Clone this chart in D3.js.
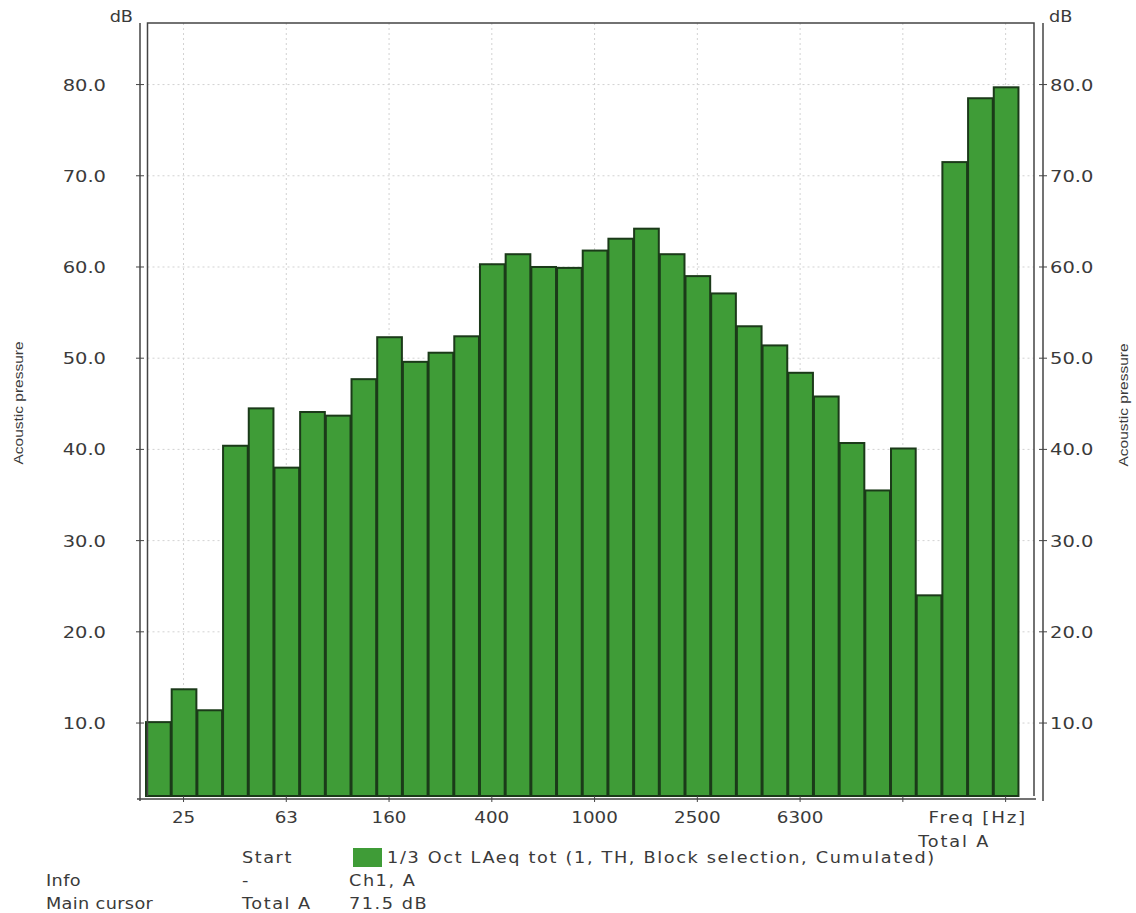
<!DOCTYPE html>
<html><head><meta charset="utf-8">
<script src="https://cdn.jsdelivr.net/npm/d3@7"></script>
<style>body{margin:0;background:#fff}svg{display:block}</style>
</head><body><svg id="c" width="1136" height="913"></svg>
<script>
// ---- data ----
const bands = ["20","25","31.5","40","50","63","80","100","125","160","200","250","315","400","500","630","800","1000","1250","1600","2000","2500","3150","4000","5000","6300","8000","10000","12500","16000","20000","Total A","Total C","Total Z"];
const levels = [10.1,13.7,11.4,40.4,44.5,38.0,44.1,43.7,47.7,52.3,49.6,50.6,52.4,60.3,61.4,60.0,59.9,61.8,63.1,64.2,61.4,59.0,57.1,53.5,51.4,48.4,45.8,40.7,35.5,40.1,24.0,71.5,78.5,79.7];
const xTicks = ["25","63","160","400","1000","2500","6300","16000","Total Z"];
const xTickLabels = ["25","63","160","400","1000","2500","6300","",""];
const yTicks = [10,20,30,40,50,60,70,80];
const legendRows = [["","Start",""],["Info","-","Ch1, A"],["Main cursor","Total A","71.5 dB"]];
const seriesName = "1/3 Oct LAeq tot (1, TH, Block selection, Cumulated)";
const cursorBand = "Total A";

// ---- layout ----
const svg = d3.select("#c");
const SX = 1.18; // horizontal stretch of text glyphs
const font = "'DejaVu Sans', Verdana, sans-serif";
const txtCol = "#3a3a3a";
const plotL = 147.5, plotR = 1034, plotT = 23, plotB = 796;
const axL = 140, axR = 1043, axB = 799;

const x = d3.scaleBand().domain(bands).range([145, 145 + 34 * 25.69]).padding(0);
const y = d3.scaleLinear().domain([2, 86.75]).range([plotB, plotT]);

svg.append("rect").attr("width",1136).attr("height",913).attr("fill","#fff");

// gridlines
const grid = svg.append("g").attr("stroke","#d2d2d2").attr("stroke-width",1).attr("stroke-dasharray","2,3");
grid.selectAll("line.v").data(xTicks).join("line").attr("class","v")
  .attr("x1",d=>x(d)+x.bandwidth()/2).attr("x2",d=>x(d)+x.bandwidth()/2)
  .attr("y1",plotT).attr("y2",plotB);
grid.selectAll("line.h").data(yTicks).join("line").attr("class","h")
  .attr("x1",plotL).attr("x2",plotR).attr("y1",d=>y(d)).attr("y2",d=>y(d));

// bars
svg.append("g").selectAll("rect").data(bands).join("rect")
  .attr("x",(d)=>x(d)+1).attr("width",x.bandwidth()-1)
  .attr("y",(d,i)=>y(levels[i])).attr("height",(d,i)=>y(2)-y(levels[i]))
  .attr("fill","#3f9c37").attr("stroke","#1b3a19").attr("stroke-width",2);

// frame
const fr = svg.append("g").attr("stroke","#444").attr("stroke-width",1.5).attr("fill","none");
fr.append("path").attr("d",`M${plotL},${plotB}V${plotT}H${plotR}V${plotB}`);
fr.append("line").attr("x1",axL).attr("x2",axL).attr("y1",plotT).attr("y2",axB+2);
fr.append("line").attr("x1",axR).attr("x2",axR).attr("y1",plotT).attr("y2",axB+2);

// x axis
const xa = svg.append("g").attr("transform",`translate(0,${axB})`)
  .call(d3.axisBottom(x).tickValues(xTicks).tickSize(3).tickPadding(10)
    .tickFormat((d,i)=>xTickLabels[i]));
xa.select(".domain").attr("d",`M137,0H1036`).attr("stroke","#444").attr("stroke-width",1.5);
xa.selectAll(".tick line").attr("y1",-3).attr("y2",3).attr("stroke","#444");
xa.selectAll(".tick text").attr("font-family",font).attr("font-size",15.5).attr("fill",txtCol)
  .attr("transform",`scale(${SX},1)`);

// y axes (left & right)
function yAxis(xLine, side){
  const g = svg.append("g");
  g.selectAll("line").data(yTicks).join("line")
    .attr("x1",xLine-4).attr("x2",xLine+4).attr("y1",d=>y(d)).attr("y2",d=>y(d))
    .attr("stroke","#444").attr("stroke-width",1);
  g.selectAll("text").data(yTicks).join("text")
    .attr("transform",d=>`translate(${side<0? xLine-34 : xLine+7},${y(d)}) scale(${SX},1)`)
    .attr("text-anchor",side<0?"end":"start").attr("dy","0.36em")
    .attr("font-family",font).attr("font-size",16.5).attr("fill",txtCol)
    .text(d=>d3.format(".1f")(d));
  svg.append("text").attr("transform",`translate(${side<0? 133 : 1049},22) scale(${SX},1)`)
    .attr("text-anchor",side<0?"end":"start")
    .attr("font-family",font).attr("font-size",15).attr("fill",txtCol).text("dB");
}
yAxis(axL,-1); yAxis(axR,1);

// rotated axis titles
[[18,403],[1123,405]].forEach(([tx,ty])=>{
  svg.append("text").attr("transform",`translate(${tx},${ty}) rotate(-90) scale(1,0.85)`)
    .attr("text-anchor","middle").attr("dy","0.35em")
    .attr("font-family","'Liberation Sans', Arial, sans-serif").attr("font-size",15.5)
    .attr("fill",txtCol).text("Acoustic pressure");
});

// Freq label and cursor label
svg.append("text").attr("transform",`translate(1027,823) scale(${SX},1)`).attr("text-anchor","end")
  .attr("font-family",font).attr("font-size",15.5).attr("letter-spacing",1.5).attr("fill",txtCol).text("Freq [Hz]");
svg.append("text").attr("transform",`translate(${x(cursorBand)+x.bandwidth()/2},847) scale(${SX},1)`)
  .attr("text-anchor","middle").attr("font-family",font).attr("font-size",15).attr("letter-spacing",1.6)
  .attr("fill",txtCol).text(cursorBand);

// legend / info table
const colX = [46,242,349], rowY = [863,886,909];
legendRows.forEach((r,ri)=>r.forEach((t,ci)=>{
  if(!t) return;
  svg.append("text").attr("transform",`translate(${colX[ci]},${rowY[ri]}) scale(${SX},1)`)
    .attr("font-family",font).attr("font-size",15).attr("letter-spacing",ci===0?0.3:1.3)
    .attr("fill",txtCol).text(t);
}));
svg.append("rect").attr("x",353).attr("y",848).attr("width",29).attr("height",19).attr("fill","#3f9c37");
svg.append("text").attr("transform",`translate(387,${rowY[0]}) scale(${SX},1)`)
  .attr("font-family",font).attr("font-size",15).attr("letter-spacing",1.4)
  .attr("fill",txtCol).text(seriesName);
</script></body></html>
